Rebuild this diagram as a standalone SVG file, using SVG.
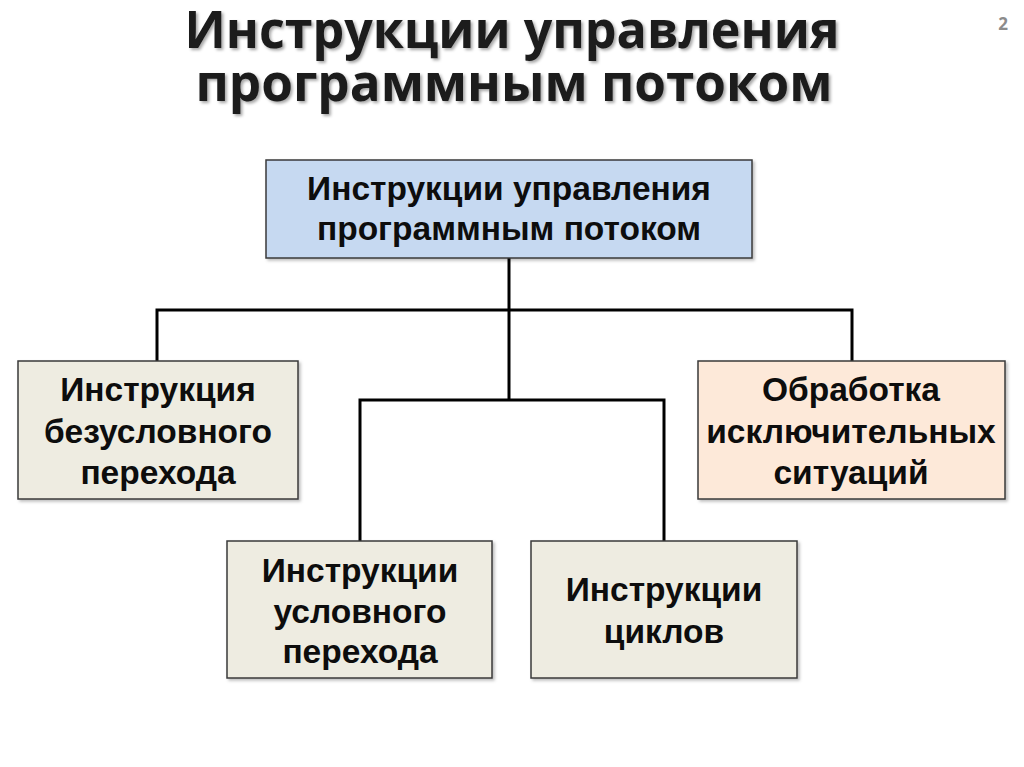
<svg xmlns="http://www.w3.org/2000/svg" width="1024" height="767" viewBox="0 0 1024 767">
<defs>
<style>
.box{stroke:#3a3a3a;stroke-width:1.5}
.t{font-family:"Liberation Sans",Arial,sans-serif;font-weight:bold;font-size:33.5px;fill:#0d0d0d;text-anchor:middle}
.title{font-family:"Open Sans","Liberation Sans",sans-serif;font-weight:bold;font-size:52px;fill:#1a1a1a;text-anchor:middle}
.ln{stroke:#000;stroke-width:3;fill:none}
</style>
<filter id="sh" x="-5%" y="-10%" width="110%" height="130%">
<feDropShadow dx="2" dy="2" stdDeviation="1.5" flood-color="#000" flood-opacity="0.35"/>
</filter>
<filter id="bs" x="-5%" y="-5%" width="110%" height="115%">
<feDropShadow dx="2" dy="2" stdDeviation="1.5" flood-color="#000" flood-opacity="0.25"/>
</filter>
</defs>
<rect width="1024" height="767" fill="#ffffff"/>
<g id="title" filter="url(#sh)">
<text class="title" x="512" y="48" textLength="655" lengthAdjust="spacingAndGlyphs">Инструкции управления</text>
<text class="title" x="514" y="101" textLength="637" lengthAdjust="spacingAndGlyphs">программным потоком</text>
</g>
<text id="page" x="1003" y="30" font-family="'Open Sans','Liberation Sans',sans-serif" font-weight="bold" font-size="17" fill="#8c8c8c" text-anchor="middle">2</text>
<g id="connectors">
<path class="ln" d="M509 258V400"/>
<path class="ln" d="M157 361V310H852V361"/>
<path class="ln" d="M360 541V400H664V541"/>
</g>
<g id="root">
<rect class="box" x="266" y="160" width="486" height="98" fill="#c6d9f1" filter="url(#bs)"/>
<text class="t" x="509" y="200">Инструкции управления</text>
<text class="t" x="509" y="240">программным потоком</text>
</g>
<g id="unconditional">
<rect class="box" x="18" y="361" width="280" height="138" fill="#eeece1" filter="url(#bs)"/>
<text class="t" x="158" y="401">Инструкция</text>
<text class="t" x="158" y="443">безусловного</text>
<text class="t" x="158" y="484">перехода</text>
</g>
<g id="exceptions">
<rect class="box" x="698" y="361" width="307" height="138" fill="#fde9d9" filter="url(#bs)"/>
<text class="t" x="851" y="401">Обработка</text>
<text class="t" x="851" y="443">исключительных</text>
<text class="t" x="851" y="484">ситуаций</text>
</g>
<g id="conditional">
<rect class="box" x="227" y="541" width="265" height="137" fill="#eeece1" filter="url(#bs)"/>
<text class="t" x="360" y="582">Инструкции</text>
<text class="t" x="360" y="623">условного</text>
<text class="t" x="360" y="663">перехода</text>
</g>
<g id="loops">
<rect class="box" x="531" y="541" width="266" height="137" fill="#eeece1" filter="url(#bs)"/>
<text class="t" x="664" y="601">Инструкции</text>
<text class="t" x="664" y="643">циклов</text>
</g>
</svg>
